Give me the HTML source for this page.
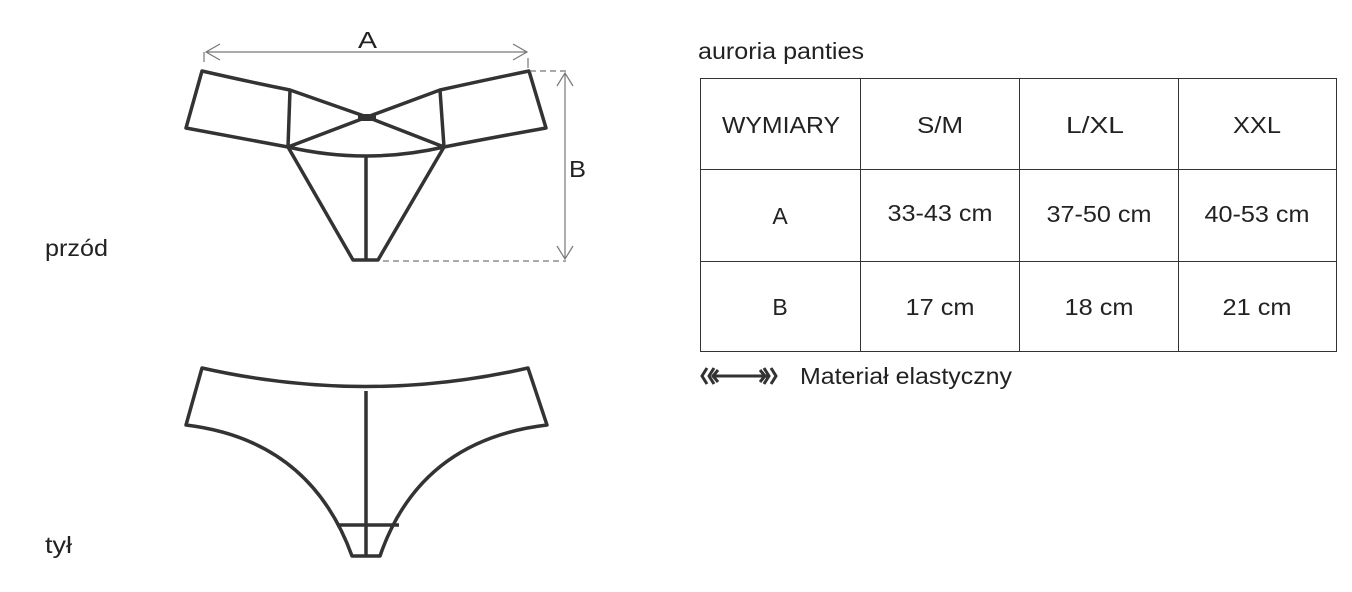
<!DOCTYPE html>
<html><head><style>
body{margin:0;background:#fff;width:1352px;height:592px;overflow:hidden;font-family:"Liberation Sans",Arial,sans-serif;color:#222}
svg{position:absolute;left:0;top:0}
</style></head><body>
<svg width="1352" height="592" viewBox="0 0 1352 592">
<g fill="none" stroke="#333" stroke-width="3.5" stroke-linejoin="round">
<path d="M202,71 Q250,82 290,90 L367,117 L440,90 Q490,79 529,71 L546,128 Q490,138 444,147 Q366,165 288,147 Q240,138 186,128 Z"/>
<path d="M290,90 L288,147 M440,90 L444,147 M288,147 L367,117 L444,147"/>
<path d="M288,147 L353,260 L378,260 L444,147 M366,156 L366,260"/>
<path d="M202,368 Q366,405 528,368 L547,425 Q420,440 380,556 L352,556 Q310,440 186,425 Z"/>
<path d="M366,391 L366,556 M337,525 L399,525"/>
</g>
<rect x="358" y="114" width="18" height="7" fill="#333"/>
<g stroke="#777" stroke-width="1.2" fill="none">
<path d="M206,52 L527,52 M220,44 L206,52 L220,60 M513,44 L527,52 L513,60 M204,52 L204,62 M528,58 L528,68"/>
<path d="M565,73 L565,259 M557,86 L565,73 L573,86 M557,246 L565,259 L573,246"/>
<path d="M530,71 L566,71 M383,261 L566,261" stroke-dasharray="6,4"/>
</g>
<g fill="#222" font-size="23" font-family="Liberation Sans, Arial, sans-serif">
<text x="358" y="48" textLength="19" lengthAdjust="spacingAndGlyphs">A</text>
<text x="569" y="177" textLength="17" lengthAdjust="spacingAndGlyphs">B</text>
<text x="45" y="256" textLength="63" lengthAdjust="spacingAndGlyphs">przód</text>
<text x="45" y="553" textLength="27" lengthAdjust="spacingAndGlyphs">tył</text>
<text x="698" y="59" textLength="166" lengthAdjust="spacingAndGlyphs">auroria panties</text>
<text x="800" y="384" textLength="212" lengthAdjust="spacingAndGlyphs">Materiał elastyczny</text>
</g>
<g stroke="#333" stroke-width="1" fill="none">
<rect x="700.5" y="78.5" width="636" height="273"/>
<path d="M700,169.5H1337M700,261.5H1337M860.5,78V352M1019.5,78V352M1178.5,78V352"/>
</g>
<g fill="#222" font-size="23" text-anchor="middle" font-family="Liberation Sans, Arial, sans-serif">
<text x="781" y="133" textLength="118" lengthAdjust="spacingAndGlyphs">WYMIARY</text>
<text x="940" y="133" textLength="46" lengthAdjust="spacingAndGlyphs">S/M</text>
<text x="1095" y="133" textLength="58" lengthAdjust="spacingAndGlyphs">L/XL</text>
<text x="1257" y="133" textLength="48" lengthAdjust="spacingAndGlyphs">XXL</text>
<text x="780" y="224">A</text>
<text x="940" y="221" textLength="105" lengthAdjust="spacingAndGlyphs">33-43 cm</text>
<text x="1099" y="222" textLength="105" lengthAdjust="spacingAndGlyphs">37-50 cm</text>
<text x="1257" y="222" textLength="105" lengthAdjust="spacingAndGlyphs">40-53 cm</text>
<text x="780" y="315">B</text>
<text x="940" y="315" textLength="69" lengthAdjust="spacingAndGlyphs">17 cm</text>
<text x="1099" y="315" textLength="69" lengthAdjust="spacingAndGlyphs">18 cm</text>
<text x="1257" y="315" textLength="69" lengthAdjust="spacingAndGlyphs">21 cm</text>
</g>
<g stroke="#333" stroke-width="3" fill="none">
<path d="M707,368 L702,376 L707,384 M714,368 L709,376 L714,384 M712,376 L769,376 M764,368 L769,376 L764,384 M771,368 L776,376 L771,384"/>
<path d="M718,370 L713,376 L718,382 M760,370 L765,376 L760,382"/>
</g>
</svg>
</body></html>
